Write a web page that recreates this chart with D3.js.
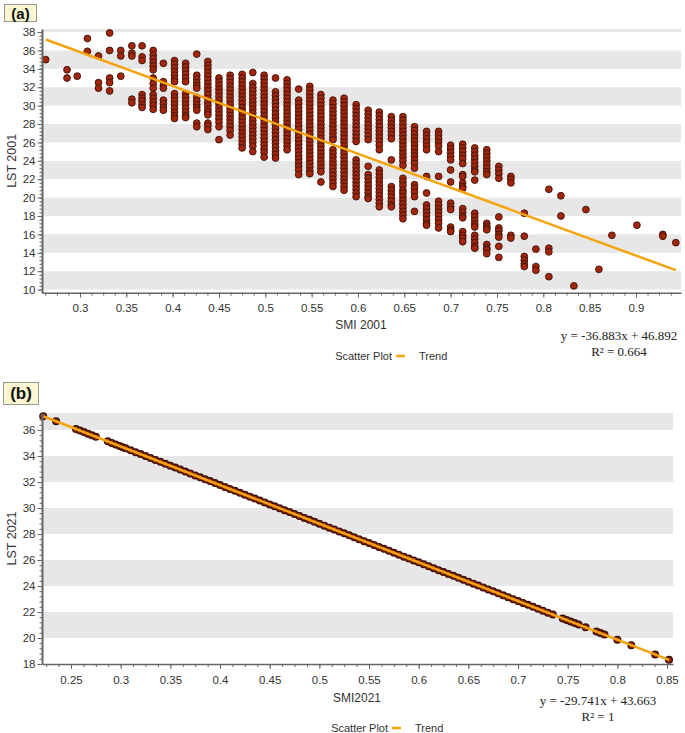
<!DOCTYPE html>
<html><head><meta charset="utf-8">
<script src="https://cdn.jsdelivr.net/npm/d3@7/dist/d3.min.js"></script>
<style>
html,body{margin:0;padding:0;background:#fff;}
svg text{font-family:"Liberation Sans",Arial,sans-serif;}
</style></head>
<body><svg id="c" width="685" height="733"></svg>
<script>
// ---------- Panel (a) data ----------
const smi2001 = [0.263,0.286,0.297,0.308,0.320,0.332,0.344,0.356,0.367,0.379,0.390,0.402,0.414,0.426,0.438,0.450,0.462,0.475,
0.4865,0.4987,0.511,0.5235,0.536,0.548,0.560,0.573,0.585,0.598,0.611,0.623,0.636,0.6485,0.661,0.674,0.687,0.700,0.713,0.726,0.739,0.752,0.765,0.7795,0.792,0.806,0.819,0.833,0.846,0.860,0.874,0.901,0.929,0.943];
const lst2001 = [
[35.0],
[33.9,33.0],
[33.2],
[37.3,35.9],
[35.4,32.5,31.9],
[37.9,36.0,33.0,32.5,31.6],
[36.0,35.4,33.2],
[36.5,35.7,35.4,30.7,30.3],
[36.5,35.3,34.9,31.2,30.8,30.5,30.1,29.8],
[36.0,35.5,35.1,34.7,34.3,33.9,33.0,32.4,31.9,31.2,30.8,30.4,30.0,29.6],
[34.6,32.6,32.2,31.9,30.6,30.2,29.8,29.5],
[34.9,34.5,34.1,33.7,33.3,32.9,32.6,31.3,30.9,30.5,30.1,29.7,29.3,28.9,28.6],
[34.6,34.2,33.8,33.4,33.0,32.6,31.3,30.9,30.5,30.1,29.7,29.3,28.9,28.7],
[35.6,33.3,32.9,32.5,32.2,31.9,30.9,30.5,30.1,29.8,29.5,28.1,27.7],
[34.8,34.4,34.0,33.6,33.2,32.8,32.4,32.0,31.6,31.2,30.8,30.4,30.0,29.6,29.3,29.0,28.1,27.8,27.4],
[33.0,32.6,32.2,31.8,31.4,31.0,30.6,30.2,29.8,29.4,29.0,28.6,28.2,27.7,26.3],
[33.3,32.9,32.5,32.1,31.7,31.3,30.9,30.5,30.1,29.7,29.3,28.9,28.5,28.1,27.7,27.3,26.8],
[33.4,33.0,32.6,32.2,31.8,31.4,31.0,30.6,30.2,29.8,29.4,29.0,28.6,28.2,27.8,27.4,27.0,26.6,26.2,25.8,25.4],
[33.6,32.4,32.0,31.6,31.2,30.8,30.4,30.0,29.6,29.2,28.8,28.4,28.0,27.6,27.2,26.8,26.4,26.0,25.6,25.0],
[33.3,32.9,32.5,32.1,31.7,31.3,30.9,30.5,30.1,29.7,29.3,28.9,28.5,28.1,27.7,27.3,26.9,26.5,26.1,25.7,25.3,24.9,24.4],
[33.0,31.5,31.1,30.7,30.3,29.9,29.5,29.1,28.7,28.3,27.9,27.5,27.1,26.7,26.3,25.9,25.5,25.1,24.7,24.3],
[32.8,32.4,32.0,31.6,31.2,30.8,30.4,30.0,29.6,29.2,28.8,28.4,28.0,27.6,27.2,26.8,26.4,26.0,25.6,25.2],
[31.8,30.6,30.2,29.8,29.4,29.0,28.6,28.2,27.8,27.4,27.0,26.6,26.2,25.8,25.4,25.0,24.6,24.2,23.8,23.4,23.0,22.5],
[32.1,31.7,31.3,30.9,30.5,30.1,29.7,29.3,28.9,28.5,28.1,27.7,27.3,26.9,26.5,26.1,25.7,25.3,24.9,24.5,24.1,23.7,23.3,22.9,22.6],
[31.2,30.8,30.4,30.0,29.6,29.2,28.8,28.4,28.0,27.6,27.2,26.8,26.4,26.0,25.6,25.2,24.8,24.4,24.0,23.6,23.2,22.8,21.7],
[30.6,30.2,29.8,29.4,29.0,28.6,28.2,27.8,27.4,27.0,26.6,26.3,25.2,24.8,24.4,24.0,23.6,23.2,22.8,22.4,22.0,21.6,21.2],
[30.8,30.4,30.0,29.6,29.2,28.8,28.4,28.0,27.6,27.2,26.8,26.4,26.0,25.6,25.2,24.8,24.4,24.0,23.6,23.2,22.8,22.4,22.0,21.6,21.2,20.8],
[30.1,29.7,29.3,28.9,28.5,28.1,27.7,27.3,26.9,26.5,26.1,24.1,23.7,23.3,22.9,22.5,22.1,21.7,21.3,20.9,20.5,20.1],
[29.5,29.1,28.7,28.3,27.9,27.5,27.1,26.7,26.3,23.4,22.5,22.1,21.7,21.3,20.9,20.5,20.1,19.9],
[29.3,28.9,28.5,28.1,27.7,27.3,26.9,26.5,26.1,25.7,25.2,23.0,22.6,22.2,21.8,21.4,21.0,20.6,20.2,19.8,19.4,19.0],
[28.8,28.4,28.0,27.6,27.2,26.8,26.4,24.1,21.2,20.8,20.4,20.0,19.6,19.2,19.0],
[28.8,28.4,28.0,27.6,27.2,26.8,26.4,26.0,25.6,25.2,24.8,24.4,24.0,23.5,22.1,21.7,21.3,20.8,20.5,20.1,19.7,19.3,18.9,18.5,18.1,17.7],
[27.7,27.3,26.9,26.5,26.1,25.7,25.3,24.9,24.5,24.1,23.7,23.2,21.4,21.0,20.6,20.1,18.5],
[27.2,26.8,26.4,26.0,25.6,25.2,22.3,20.5,19.2,18.8,18.4,18.0,17.6,17.2,17.0],
[27.2,26.8,26.4,26.0,25.6,25.0,22.3,19.6,19.2,18.8,18.4,18.0,17.6,17.2,16.7],
[25.7,25.3,24.9,24.5,24.1,23.0,21.7,19.4,19.0,18.7,16.8,16.5,16.3],
[25.8,25.4,25.0,24.6,24.2,23.7,22.5,22.3,21.6,21.2,21.0,18.8,18.4,18.0,17.8,16.3,15.9,15.6,15.2],
[25.4,25.0,24.6,24.2,23.8,23.4,23.0,22.8,21.9,18.3,17.9,17.5,17.1,16.8,15.9,15.5,15.1,14.7,14.5],
[25.2,24.8,24.4,24.0,23.6,23.2,22.8,22.5,17.2,16.9,16.7,16.5,14.9,14.5,14.3,13.9],
[23.4,23.0,22.6,22.1,17.9,16.7,16.4,16.0,15.7,14.7,13.5],
[22.3,22.0,21.6,15.9,15.6],
[18.3,15.8,13.6,13.2,12.8,12.5],
[14.4,12.5,12.1],
[20.9,14.5,14.1,11.4],
[20.2,18.0],
[10.4],
[18.7],
[12.2],
[15.9],
[17.0],
[16.0,15.8],
[15.1]
];
const trendA = {slope:-36.883, intercept:46.892};
const xTicksA = [0.3,0.35,0.4,0.45,0.5,0.55,0.6,0.65,0.7,0.75,0.8,0.85,0.9];
const xTickLabelsA = ["0.3","0.35","0.4","0.45","0.5","0.55","0.6","0.65","0.7","0.75","0.8","0.85","0.9"];
const yTicksA = [10,12,14,16,18,20,22,24,26,28,30,32,34,36,38];

// ---------- Panel (b) data ----------
const smi2021 = [0.222,0.235,0.255,0.259,0.263,0.267,0.271,0.275,0.287,0.291,0.295,0.299,0.302,
0.305,0.310,0.315,0.320,0.325,0.330,0.335,0.340,0.345,0.350,0.355,0.360,0.365,0.370,0.375,0.380,0.385,0.390,0.395,0.400,
0.405,0.410,0.415,0.420,0.425,0.430,0.435,0.440,0.445,0.450,0.455,0.460,0.465,0.470,0.475,0.480,0.485,0.490,0.495,0.500,
0.505,0.510,0.515,0.520,0.525,0.530,0.535,0.540,0.545,0.550,0.555,0.560,0.565,0.570,0.575,0.580,0.585,0.590,0.595,0.600,
0.605,0.610,0.615,0.620,0.625,0.630,0.635,0.640,0.645,0.650,0.655,0.660,0.665,0.670,0.675,0.680,0.685,0.690,0.695,0.700,
0.705,0.710,0.715,0.720,0.725,0.730,0.735,0.745,0.749,0.753,0.757,0.761,0.768,0.779,0.783,0.787,0.800,0.814,0.838,0.852];
const lst2021 = [37.06,36.67,36.08,35.96,35.84,35.72,35.60,35.48,35.13,35.01,34.89,34.77,34.68,
34.59,34.44,34.29,34.15,34.00,33.85,33.70,33.55,33.40,33.25,33.11,32.96,32.81,32.66,32.51,32.36,32.21,32.07,31.92,31.77,
31.62,31.47,31.32,31.17,31.02,30.87,30.73,30.58,30.43,30.28,30.13,29.98,29.83,29.69,29.54,29.39,29.24,29.09,28.94,28.79,
28.64,28.49,28.35,28.20,28.05,27.90,27.75,27.60,27.45,27.30,27.16,27.01,26.86,26.71,26.56,26.41,26.26,26.11,25.97,25.82,
25.67,25.52,25.37,25.22,25.07,24.93,24.78,24.63,24.48,24.33,24.18,24.03,23.89,23.74,23.59,23.44,23.29,23.14,22.99,22.84,
22.70,22.55,22.40,22.25,22.10,21.95,21.80,21.51,21.39,21.27,21.15,21.03,20.82,20.50,20.38,20.26,19.87,19.45,18.74,18.32];
const trendB = {slope:-29.741, intercept:43.663};
const xTicksB = [0.25,0.3,0.35,0.4,0.45,0.5,0.55,0.6,0.65,0.7,0.75,0.8,0.85];
const xTickLabelsB = ["0.25","0.3","0.35","0.4","0.45","0.5","0.55","0.6","0.65","0.7","0.75","0.8","0.85"];
const yTicksB = [18,20,22,24,26,28,30,32,34,36];

const svg = d3.select("#c");
const AX = "#666";
const DOT_FILL = "#a3260b", DOT_STROKE = "#3b1208", TREND = "#f5a40e";

function panel(cfg){
  const x = d3.scaleLinear().domain(cfg.xDomain).range([cfg.left, cfg.right]);
  const y = d3.scaleLinear().domain(cfg.yDomain).range([cfg.bottom, cfg.top]);
  const g = svg.append("g");
  const bands = [];
  for (let v = cfg.bandStart; v < cfg.yDomain[1]; v += 4) bands.push(v);
  g.selectAll("rect.band").data(bands).enter().append("rect")
    .attr("x", cfg.left).attr("width", cfg.right - cfg.left)
    .attr("y", d => y(Math.min(d + 2, cfg.yDomain[1])))
    .attr("height", d => y(d) - y(Math.min(d + 2, cfg.yDomain[1])))
    .attr("fill", "#e7e7e7");
  g.selectAll("circle").data(cfg.points).enter().append("circle")
    .attr("cx", d => x(d[0])).attr("cy", d => y(d[1])).attr("r", cfg.r)
    .attr("fill", DOT_FILL).attr("stroke", DOT_STROKE).attr("stroke-width", cfg.sw);
  const xs = d3.extent(cfg.points, d => d[0]);
  g.append("line")
    .attr("x1", x(xs[0])).attr("y1", y(cfg.trend.slope * xs[0] + cfg.trend.intercept))
    .attr("x2", x(xs[1])).attr("y2", y(cfg.trend.slope * xs[1] + cfg.trend.intercept))
    .attr("stroke", TREND).attr("stroke-width", 2.5);
  const xMinor = d3.range(Math.ceil(cfg.xDomain[0] / 0.0125) * 0.0125, cfg.xDomain[1], 0.0125);
  const yMinor = d3.range(Math.ceil(cfg.yDomain[0] / 0.4) * 0.4, cfg.yDomain[1], 0.4);
  g.append("g").attr("transform", `translate(0,${cfg.bottom})`)
    .call(d3.axisBottom(x).tickValues(xMinor).tickSize(3).tickFormat(""))
    .call(a => a.select(".domain").remove())
    .selectAll("line").attr("stroke", AX);
  g.append("g").attr("transform", `translate(${cfg.left},0)`)
    .call(d3.axisLeft(y).tickValues(yMinor).tickSize(2.5).tickFormat(""))
    .call(a => a.select(".domain").remove())
    .selectAll("line").attr("stroke", AX);
  const xa = g.append("g").attr("transform", `translate(0,${cfg.bottom})`)
    .call(d3.axisBottom(x).tickValues(cfg.xTicks).tickSize(5).tickSizeOuter(0).tickPadding(cfg.xPad)
      .tickFormat((d, i) => cfg.xLabels[i]));
  xa.select(".domain").attr("stroke", AX).attr("stroke-width", 1.5);
  xa.selectAll("line").attr("stroke", AX);
  xa.selectAll("text").attr("font-size", 11.5).attr("fill", "#333");
  const ya = g.append("g").attr("transform", `translate(${cfg.left},0)`)
    .call(d3.axisLeft(y).tickValues(cfg.yTicks).tickSize(4.5).tickSizeOuter(0).tickPadding(2));
  ya.select(".domain").attr("stroke", AX).attr("stroke-width", 2);
  ya.selectAll("line").attr("stroke", AX);
  ya.selectAll("text").attr("font-size", 11.5).attr("fill", "#333");
  g.append("text").attr("transform", `translate(${cfg.yTitleX},${(cfg.top + cfg.bottom) / 2}) rotate(-90)`)
    .attr("text-anchor", "middle").attr("font-size", 12.5).attr("fill", "#333").text(cfg.yTitle);
  g.append("text").attr("x", cfg.xTitleX).attr("y", cfg.xTitleY)
    .attr("text-anchor", "middle").attr("font-size", 12).attr("fill", "#333").text(cfg.xTitle);
  g.append("text").attr("x", cfg.eqX).attr("y", cfg.eqY).attr("text-anchor", "middle")
    .style("font-family", "'Liberation Serif','Times New Roman',serif").attr("font-size", 13).attr("fill", "#222")
    .text(cfg.eq1);
  g.append("text").attr("x", cfg.eqX).attr("y", cfg.eqY + 15.5).attr("text-anchor", "middle")
    .style("font-family", "'Liberation Serif','Times New Roman',serif").attr("font-size", 13).attr("fill", "#222")
    .text(cfg.eq2);
  // legend: "Scatter Plot" ends just before the trend swatch
  g.append("text").attr("x", cfg.legX).attr("y", cfg.legY).attr("text-anchor", "end")
    .attr("font-size", 11).attr("fill", "#333").text("Scatter Plot");
  g.append("line").attr("x1", cfg.legX + 4).attr("x2", cfg.legX + 13).attr("y1", cfg.legY - 4).attr("y2", cfg.legY - 4)
    .attr("stroke", TREND).attr("stroke-width", 2.5);
  g.append("text").attr("x", cfg.legX + 27).attr("y", cfg.legY).attr("font-size", 11).attr("fill", "#333").text("Trend");
  g.append("rect").attr("x", cfg.lab[0] + 0.5).attr("y", cfg.lab[1] + 0.5).attr("width", cfg.lab[2]).attr("height", cfg.lab[3])
    .attr("fill", "#fbf7d2").attr("stroke", "#9a9a8a").attr("stroke-width", 1);
  g.append("text").attr("x", cfg.lab[0] + cfg.lab[2] / 2 + 0.5).attr("y", cfg.lab[1] + cfg.lab[3] / 2 + 6)
    .attr("text-anchor", "middle").attr("font-weight", "bold").attr("font-size", cfg.lab[4]).attr("fill", "#111").text(cfg.label);
}

const ptsA = [];
smi2001.forEach((sx, i) => lst2001[i].forEach(v => ptsA.push([sx, v])));
const ptsB = smi2021.map((sx, i) => [sx, lst2021[i]]);

panel({xDomain:[0.259,0.9486], yDomain:[9.66,38.33], left:42, right:681, top:29, bottom:292.7, bandStart:10,
  points:ptsA, trend:trendA, r:3.4, sw:0.9, xTicks:xTicksA, xLabels:xTickLabelsA, yTicks:yTicksA, xPad:6,
  yTitle:"LST 2001", yTitleX:16, xTitle:"SMI 2001", xTitleX:361, xTitleY:329,
  eq1:"y = -36.883x + 46.892", eq2:"R\u00b2 = 0.664", eqX:619, eqY:340, legX:392, legY:360,
  lab:[4,4,32,17,15], label:"(a)"});

panel({xDomain:[0.2208,0.856], yDomain:[18,37.31], left:42, right:673, top:413, bottom:664, bandStart:20,
  points:ptsB, trend:trendB, r:3.3, sw:1.4, xTicks:xTicksB, xLabels:xTickLabelsB, yTicks:yTicksB, xPad:7,
  yTitle:"LST 2021", yTitleX:16, xTitle:"SMI2021", xTitleX:357, xTitleY:702,
  eq1:"y = -29.741x + 43.663", eq2:"R\u00b2 = 1", eqX:598, eqY:705, legX:388, legY:732,
  lab:[3,382,35,22,17], label:"(b)"});
</script></body></html>
